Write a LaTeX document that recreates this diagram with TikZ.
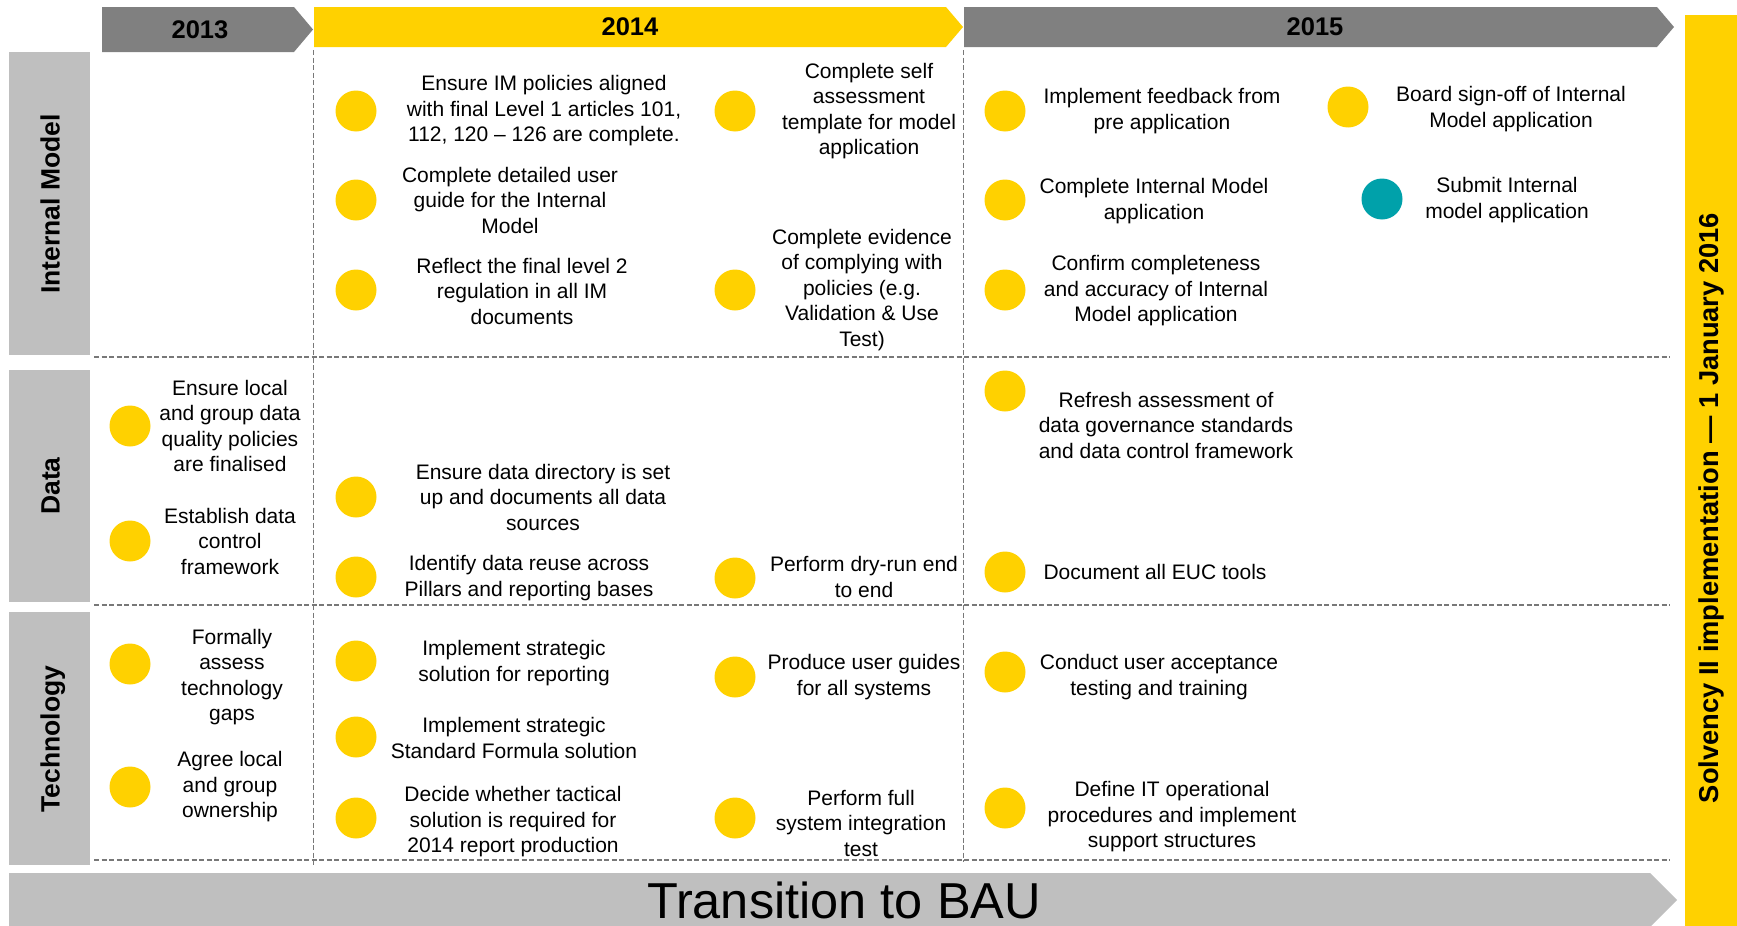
\documentclass[tikz,border=0pt]{standalone}
\usepackage{fontspec}
\setmainfont{Liberation Sans}
\definecolor{sunyellow}{RGB}{255,209,0}
\definecolor{tealmark}{RGB}{0,161,170}
\definecolor{darkgrey}{RGB}{128,128,128}
\definecolor{lightgrey}{RGB}{191,191,191}
\definecolor{gridgrey}{RGB}{120,120,120}
\begin{document}
\begin{tikzpicture}[x=1pt,y=-1pt,
  dot/.style={circle,fill=sunyellow,minimum size=41pt,inner sep=0pt},
  tealdot/.style={dot,fill=tealmark},
  task/.style={align=center,inner sep=0pt,font=\fontsize{21}{25.5}\selectfont},
  yearlbl/.style={inner sep=0pt,font=\bfseries\fontsize{25.5}{30}\selectfont},
  rowlbl/.style={rotate=90,inner sep=0pt,text height=19pt,text depth=0pt,
    font=\bfseries\fontsize{26.5}{30}\selectfont},
  gridline/.style={draw=gridgrey,line width=1.8pt,dash pattern=on 5pt off 2.5pt}
]
\useasboundingbox (0,0) rectangle (1737,926);

% year header arrows
\fill[darkgrey] (102,7) -- (294,7) -- (313,29.5) -- (294,52) -- (102,52) -- cycle;
\fill[sunyellow] (314,7) -- (946,7) -- (963,27) -- (946,47) -- (314,47) -- cycle;
\fill[darkgrey] (964,7) -- (1657,7) -- (1674,27) -- (1657,47) -- (964,47) -- cycle;
\node[yearlbl] (y13) at (200,30) {2013};
\node[yearlbl] (y14) at (630,27) {2014};
\node[yearlbl] (y15) at (1315,27) {2015};

% deadline bar on the right
\fill[sunyellow] (1685,15) rectangle (1737,930);
\node[rotate=90,inner sep=0pt,font=\bfseries\fontsize{27.3}{30}\selectfont] (deadline)
  at (1711,508) {Solvency II implementation \textemdash{} 1 January 2016};

% transition bar at the bottom
\fill[lightgrey] (9,873) -- (1650,873) -- (1677,900) -- (1650,927) -- (9,927) -- cycle;
\node[inner sep=0pt,font=\fontsize{50.5}{56}\selectfont] (bau) at (844,900) {Transition to BAU};

% workstream labels
\fill[lightgrey] (9,52) rectangle (90,355);
\fill[lightgrey] (9,370) rectangle (90,602);
\fill[lightgrey] (9,612) rectangle (90,865);
\node[rowlbl] (rim) at (50,204) {Internal Model};
\node[rowlbl] (rdata) at (50,486) {Data};
\node[rowlbl] (rtech) at (50,739) {Technology};

% grid
\draw[gridline] (94,357) -- (1670,357);
\draw[gridline] (94,605) -- (1670,605);
\draw[gridline] (94,860) -- (1670,860);
\draw[gridline] (313.5,50) -- (313.5,865);
\draw[gridline] (963.5,50) -- (963.5,862);

% Internal Model
\node[dot] (c1) at (356,111) {};
\node[task] (t1) at (544,111) {Ensure IM policies aligned\\with final Level 1 articles 101,\\112, 120 -- 126 are complete.};
\node[dot] (c2) at (356,200) {};
\node[task] (t2) at (510,200) {Complete detailed user\\guide for the Internal\\Model};
\node[dot] (c3) at (356,290) {};
\node[task] (t3) at (522,291) {Reflect the final level 2\\regulation in all IM\\documents};
\node[dot] (c4) at (735,111) {};
\node[task] (t4) at (869,111) {Complete self\\assessment\\template for model\\application};
\node[dot] (c5) at (735,290) {};
\node[task] (t5) at (862,290) {Complete evidence\\of complying with\\policies (e.g.\\Validation \& Use\\Test)};
\node[dot] (c6) at (1005,111) {};
\node[task] (t6) at (1162,111) {Implement feedback from\\pre application};
\node[dot] (c7) at (1005,200) {};
\node[task] (t7) at (1154,201) {Complete Internal Model\\application};
\node[dot] (c8) at (1005,290) {};
\node[task] (t8) at (1156,291) {Confirm completeness\\and accuracy of Internal\\Model application};
\node[dot] (c9) at (1348,107) {};
\node[task] (t9) at (1511,109) {Board sign-off of Internal\\Model application};
\node[tealdot] (c10) at (1382,199) {};
\node[task] (t10) at (1507,200) {Submit Internal\\model application};

% Data
\node[dot] (c11) at (130,426) {};
\node[task] (t11) at (230,426) {Ensure local\\and group data\\quality policies\\are finalised};
\node[dot] (c12) at (130,541) {};
\node[task] (t12) at (230,541) {Establish data\\control\\framework};
\node[dot] (c13) at (356,497) {};
\node[task] (t13) at (543,497) {Ensure data directory is set\\up and documents all data\\sources};
\node[dot] (c14) at (356,577) {};
\node[task] (t14) at (529,578) {Identify data reuse across\\Pillars and reporting bases};
\node[dot] (c15) at (735,578) {};
\node[task] (t15) at (864,577) {Perform dry-run end\\to end};
\node[dot] (c16) at (1005,391) {};
\node[task] (t16) at (1166,425) {Refresh assessment of\\data governance standards\\and data control framework};
\node[dot] (c17) at (1005,572) {};
\node[task] (t17) at (1155,572) {Document all EUC tools};

% Technology
\node[dot] (c18) at (130,664) {};
\node[task] (t18) at (232,677) {Formally\\assess\\technology\\gaps};
\node[dot] (c19) at (130,787) {};
\node[task] (t19) at (230,787) {Agree local\\and group\\ownership};
\node[dot] (c20) at (356,661) {};
\node[task] (t20) at (514,663) {Implement strategic\\solution for reporting};
\node[dot] (c21) at (356,737) {};
\node[task] (t21) at (514,738) {Implement strategic\\Standard Formula solution};
\node[dot] (c22) at (356,818) {};
\node[task] (t22) at (513,822) {Decide whether tactical\\solution is required for\\2014 report production};
\node[dot] (c23) at (735,677) {};
\node[task] (t23) at (864,677) {Produce user guides\\for all systems};
\node[dot] (c24) at (735,818) {};
\node[task] (t24) at (861,823) {Perform full\\system integration\\test};
\node[dot] (c25) at (1005,672) {};
\node[task] (t25) at (1159,677) {Conduct user acceptance\\testing and training};
\node[dot] (c26) at (1005,808) {};
\node[task] (t26) at (1172,817) {Define IT operational\\procedures and implement\\support structures};
\end{tikzpicture}
\end{document}
